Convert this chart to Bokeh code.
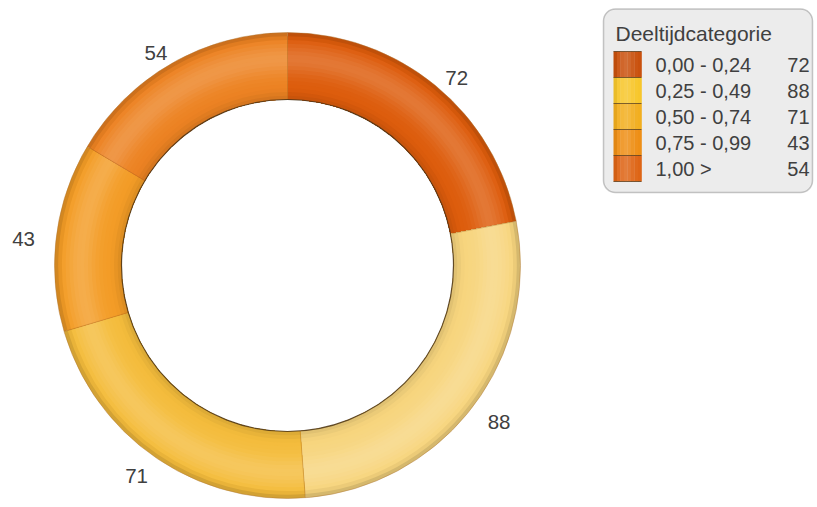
import numpy as np
from bokeh.plotting import figure
from bokeh.models import Range1d, ColumnDataSource, BoxAnnotation
from bokeh.core.properties import value
from bokeh.embed import file_html
from bokeh.resources import INLINE

# ---- data ----
categories = ["0,00 - 0,24", "0,25 - 0,49", "0,50 - 0,74", "0,75 - 0,99", "1,00 >"]
counts = [72, 88, 71, 43, 54]
ring_colors = ["#DD5C0C", "#F7D57E", "#F4BC3C", "#F39C26", "#EC8222"]
swatch_colors = ["#C9500C", "#F7C62A", "#F2AE1E", "#EE8E14", "#DE6414"]
legend_title = "Deeltijdcategorie"

# ---- layout constants (screen px -> data units: x = sx - 287, y = 265 - sy) ----
W, H = 817, 507
CX, CY = 287, 265
R_IN, R_OUT = 166, 233
FONT = value("Liberation Sans")
TXT = "#404040"


def hex2rgb(h):
    h = h.lstrip("#")
    return np.array([int(h[i:i + 2], 16) for i in (0, 2, 4)], dtype=float)


def shade(h, amt):
    c = hex2rgb(h)
    if amt >= 0:
        c = c + (255 - c) * amt
    else:
        c = c * (1 + amt)
    c = np.clip(np.round(c), 0, 255).astype(int)
    return "#%02x%02x%02x" % tuple(c)


def radial_profile(t):
    return (0.17 * np.exp(-((t - 0.6) / 0.22) ** 2)
            - 0.10 * np.exp(-(t / 0.10) ** 2)
            - 0.16 * np.exp(-((1 - t) / 0.09) ** 2))


p = figure(width=W, height=H, output_backend="svg", toolbar_location=None,
           x_range=Range1d(0 - CX, W - CX), y_range=Range1d(CY - H, CY),
           x_axis_location=None, y_axis_location=None, min_border=0,
           outline_line_color=None, background_fill_color="white")
p.grid.visible = False

total = float(sum(counts))
frac = np.array(counts, dtype=float) / total
cum = np.concatenate([[0.0], np.cumsum(frac)])
starts = np.pi / 2 - 2 * np.pi * cum[:-1]
ends = np.pi / 2 - 2 * np.pi * cum[1:]

# ring with tubular shading (bands drawn outer -> inner, overlapping)
NB = 18
band = dict(ri=[], ro=[], sa=[], ea=[], c=[])
for i in range(len(counts)):
    for k in range(NB - 1, -1, -1):
        t = (k + 0.5) / NB
        band["ri"].append(R_IN)
        band["ro"].append(R_IN + (k + 1) * (R_OUT - R_IN) / NB)
        band["sa"].append(starts[i])
        band["ea"].append(ends[i])
        band["c"].append(shade(ring_colors[i], radial_profile(t)))
band["x"] = [0] * len(band["ri"])
band["y"] = [0] * len(band["ri"])
p.annular_wedge(x="x", y="y", inner_radius="ri", outer_radius="ro",
                start_angle="sa", end_angle="ea", direction="clock",
                fill_color="c", line_color=None, source=ColumnDataSource(band))

# segment dividers
p.segment(x0=list(R_IN * np.cos(starts)), y0=list(R_IN * np.sin(starts)),
          x1=list(R_OUT * np.cos(starts)), y1=list(R_OUT * np.sin(starts)),
          line_color="#9a5a18", line_alpha=0.35, line_width=1)

# ring edges
p.arc(x=0, y=0, radius=R_IN, start_angle=0, end_angle=2 * np.pi,
      line_color="#4a3418", line_width=1.2, line_alpha=0.85)
p.arc(x=0, y=0, radius=R_OUT, start_angle=0, end_angle=2 * np.pi,
      line_color="#b07838", line_width=1, line_alpha=0.45)

# value labels around the ring
mid = (starts + ends) / 2
lx = 266 * np.cos(mid)
ly = -5 + 250 * np.sin(mid)
p.text(x=list(lx), y=list(ly), text=[str(v) for v in counts],
       text_font=FONT, text_font_size="20.5px", text_color=TXT,
       text_align="center", text_baseline="middle")

# ---- legend ----
box = BoxAnnotation(left=603 - CX, right=812 - CX, top=CY - 8.5, bottom=CY - 192,
                    fill_color="#ECECEC", fill_alpha=1.0,
                    line_color="#4a4a4a", line_width=1.5,
                    border_radius=12, level="underlay")
p.add_layout(box)

p.text(x=[615 - CX], y=[CY - 33], text=[legend_title], text_font=FONT,
       text_font_size="21px", text_color=TXT, text_align="left",
       text_baseline="middle")

ROW_TOP0, ROW_H = 51, 26
NS = 8
sw = dict(l=[], r=[], t=[], b=[], c=[])
for i in range(len(categories)):
    top = CY - (ROW_TOP0 + ROW_H * i)
    for s in range(NS):
        u = (s + 0.5) / NS
        amt = 0.16 * np.exp(-((u - 0.45) / 0.28) ** 2) - 0.10 * np.exp(-(u / 0.12) ** 2)
        sw["l"].append(613 - CX + 28 * s / NS)
        sw["r"].append(613 - CX + 28 * (s + 1) / NS + 0.3)
        sw["t"].append(top)
        sw["b"].append(top - ROW_H)
        sw["c"].append(shade(swatch_colors[i], amt))
p.quad(left="l", right="r", top="t", bottom="b", fill_color="c",
       line_color=None, source=ColumnDataSource(sw))
row_tops = [CY - (ROW_TOP0 + ROW_H * i) for i in range(len(categories) + 1)]
p.segment(x0=[613 - CX] * len(row_tops), y0=row_tops,
          x1=[641 - CX] * len(row_tops), y1=row_tops,
          line_color="#4a3010", line_width=1, line_alpha=0.7)

row_y = [CY - (ROW_TOP0 + ROW_H * i + ROW_H / 2) for i in range(len(categories))]
p.text(x=[655 - CX] * len(categories), y=row_y, text=categories,
       text_font=FONT, text_font_size="20px", text_color=TXT,
       text_align="left", text_baseline="middle")
p.text(x=[809 - CX] * len(categories), y=row_y, text=[str(v) for v in counts],
       text_font=FONT, text_font_size="20px", text_color=TXT,
       text_align="right", text_baseline="middle")

open("out.html", "w").write(file_html(p, INLINE))
